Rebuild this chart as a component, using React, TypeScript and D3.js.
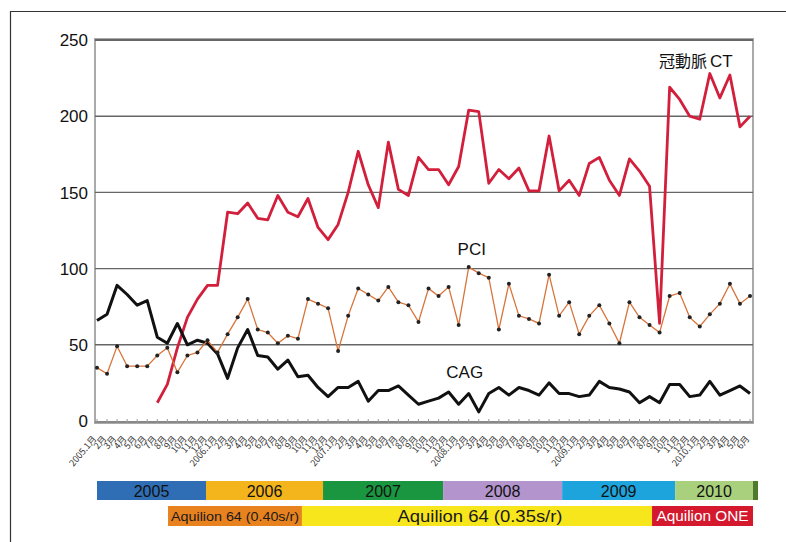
import React from "react";
import * as d3 from "d3";

const years = ["2005", "2006", "2007", "2008", "2009", "2010"];
const monthCounts = [12, 12, 12, 12, 12, 6];
const monthLabels: string[] = [];
years.forEach((y, i) => {
  for (let m = 1; m <= monthCounts[i]; m++) monthLabels.push(m === 1 ? `${y}.1月` : `${m}月`);
});

const ctSeries: (number | null)[] = [
  null, null, null, null, null, null, 12, 24, 48, 68, 80, 89,
  89, 137, 136, 143, 133, 132, 148, 137, 134, 146, 127, 119,
  129, 150, 177, 155, 140, 183, 152, 148, 173, 165, 165, 155,
  167, 204, 203, 156, 165, 159, 166, 151, 151, 187, 151, 158,
  148, 169, 173, 158, 148, 172, 164, 154, 64, 219, 211, 200,
  198, 228, 212, 227, 193, 200,
];
const pciSeries: number[] = [
  35, 31, 49, 36, 36, 36, 43, 48, 32, 43, 45, 53,
  45, 57, 68, 80, 60, 58, 51, 56, 54, 80, 77, 74,
  46, 69, 87, 83, 79, 88, 78, 76, 65, 87, 82, 88,
  63, 101, 97, 94, 60, 90, 69, 67, 64, 96, 69, 78,
  57, 69, 76, 64, 51, 78, 68, 63, 58, 82, 84, 68,
  62, 70, 77, 90, 77, 82,
];
const cagSeries: number[] = [
  66, 70, 89, 83, 76, 79, 55, 51, 64, 50, 53, 51,
  44, 28, 48, 60, 43, 42, 34, 40, 29, 30, 22, 16,
  22, 22, 26, 13, 20, 20, 23, 17, 11, 13, 15, 19,
  11, 18, 6, 18, 22, 17, 22, 20, 17, 25, 18, 18,
  16, 17, 26, 22, 21, 19, 12, 16, 12, 24, 24, 16,
  17, 26, 17, 20, 23, 18,
];
const yTicks = [0, 50, 100, 150, 200, 250];

// series name labels: [japanese part, latin part, month index, value]
const seriesLabels: [string, string, number, number][] = [
  ["冠動脈", "CT", 59.6, 236],
  ["", "PCI", 37.3, 113],
  ["", "CAG", 36.6, 32],
];

// legend bars, boundaries in month units
const yearBounds = [0, 10.85, 22.5, 34.45, 46.3, 57.55, 65.3];
const yearColors = ["#2f6db4", "#f4b41c", "#1b9640", "#b394cc", "#1ea4dc", "#a9d07c"];
const scanners = ["Aquilion 64 (0.40s/r)", "Aquilion 64 (0.35s/r)", "Aquilion ONE"];
const scannerBounds = [7.07, 20.4, 55.25, 65.3];
const scannerColors = ["#e8821f", "#f8e61c", "#d4182e"];
const scannerText = ["#1a1a1a", "#1a1a1a", "#ffffff"];

export default function App() {
  const W = 786, H = 542;
  const plotL = 95, plotR = 753, plotT = 39, plotB = 423;
  const x = d3.scaleLinear().domain([0, monthLabels.length - 1]).range([97, 750]);
  const y = d3.scaleLinear().domain([0, 250]).range([421, 40]);

  const lineCT = d3.line<number | null>()
    .defined((d) => d !== null)
    .x((_, i) => x(i))
    .y((d) => y(d as number));
  const lineN = d3.line<number>().x((_, i) => x(i)).y((d) => y(d));

  const sans = "'Liberation Sans', Arial, sans-serif";
  const jp = "'Noto Sans CJK JP', sans-serif";

  return (
    <svg width={W} height={H} style={{ position: "absolute", left: 0, top: 0, background: "#fff" }}>
      {/* outer frame */}
      <path d={`M10.5,${H} V11.5 H${W}`} fill="none" stroke="#333" strokeWidth={1.2} />

      {/* plot area */}
      <rect x={plotL} y={plotT} width={plotR - plotL} height={plotB - plotT} fill="#fff" stroke="#aaa" strokeWidth={2} />
      {yTicks.filter((t) => t > 0).map((t) => (
        <line key={t} x1={plotL} x2={plotR} y1={y(t)} y2={y(t)} stroke="#666" strokeWidth={t === 250 ? 2 : 1.4} />
      ))}
      <line x1={plotL} x2={plotR} y1={plotB - 1} y2={plotB - 1} stroke="#888" strokeWidth={2} />
      {monthLabels.map((_, i) => (
        <line key={i} x1={x(i)} x2={x(i)} y1={plotB - 4} y2={plotB} stroke="#999" strokeWidth={1} />
      ))}

      {/* y tick labels */}
      {yTicks.map((t) => (
        <text key={t} x={88} y={y(t)} dy="0.36em" textAnchor="end" fontFamily={sans} fontSize={17} fill="#111">
          {t}
        </text>
      ))}

      {/* x tick labels */}
      {monthLabels.map((lab, i) => (
        <text
          key={i}
          transform={`translate(${x(i)},${plotB + 16}) rotate(-50)`}
          textAnchor="end"
          fontFamily={jp}
          fontSize={9}
          fill="#333"
        >
          {lab}
        </text>
      ))}

      {/* series */}
      <path d={lineCT(ctSeries) || ""} fill="none" stroke="#d21f3c" strokeWidth={2.8} strokeLinejoin="round" />
      <path d={lineN(cagSeries) || ""} fill="none" stroke="#111" strokeWidth={3} strokeLinejoin="round" />
      <path d={lineN(pciSeries) || ""} fill="none" stroke="#d9743a" strokeWidth={1.3} />
      {pciSeries.map((v, i) => (
        <circle key={i} cx={x(i)} cy={y(v)} r={2} fill="#222" />
      ))}

      {/* series labels */}
      {seriesLabels.map(([jpPart, latin, m, v]) => (
        <text key={latin} x={x(m)} y={y(v)} dy="0.36em" textAnchor="middle" fontFamily={sans} fontSize={17} fill="#111">
          {jpPart ? <tspan fontFamily={jp} fontSize={16}>{jpPart}</tspan> : null}
          {jpPart ? <tspan dx={3}>{latin}</tspan> : latin}
        </text>
      ))}

      {/* year bars */}
      {years.map((yr, i) => (
        <g key={yr}>
          <rect x={x(yearBounds[i])} y={481} width={x(yearBounds[i + 1]) - x(yearBounds[i])} height={19} fill={yearColors[i]} />
          <text x={(x(yearBounds[i]) + x(yearBounds[i + 1])) / 2} y={491} dy="0.36em" textAnchor="middle" fontFamily={sans} fontSize={16} fill="#111">
            {yr}
          </text>
        </g>
      ))}
      <rect x={x(yearBounds[6])} y={481} width={5} height={19} fill="#4e7a2c" />

      {/* scanner bars */}
      {scanners.map((s, i) => {
        const x0 = x(scannerBounds[i]);
        const x1 = x(scannerBounds[i + 1]);
        return (
          <g key={s}>
            <rect x={x0} y={506} width={x1 - x0} height={20} fill={scannerColors[i]} />
            <text
              x={i === 0 ? x0 + 3 : i === 1 ? 480 : (x0 + x1) / 2}
              y={516}
              dy="0.36em"
              textAnchor={i === 0 ? "start" : "middle"}
              fontFamily={sans}
              fontSize={i === 0 ? 13 : i === 1 ? 16 : 15}
              textLength={i === 0 ? 128 : i === 1 ? 165 : 92}
              lengthAdjust="spacingAndGlyphs"
              fill={scannerText[i]}
            >
              {s}
            </text>
          </g>
        );
      })}
    </svg>
  );
}
